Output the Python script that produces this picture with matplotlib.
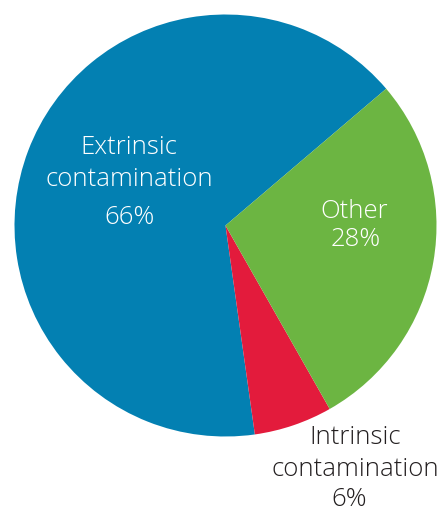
import matplotlib
matplotlib.use('Agg')
from matplotlib import pyplot as plt

# share of cases by source
labels = ['Extrinsic\ncontamination', 'Intrinsic\ncontamination', 'Other']
shares = [66, 6, 28]
colors = ['#0380b2', '#e31b3c', '#6cb542']
text_colors = ['white', '#231f20', 'white']

W, H = 441, 514
fig = plt.figure(figsize=(W / 100, H / 100), dpi=100)
ax = fig.add_axes([0, 0, 1, 1])

cx, cy, r = 225.5, H - 225.5, 211
ax.pie(shares, colors=colors, startangle=40.4, counterclock=True,
       center=(cx, cy), radius=r, frame=True,
       wedgeprops=dict(linewidth=0, antialiased=True))
ax.set_xlim(0, W)
ax.set_ylim(0, H)
ax.set_aspect('equal')
ax.axis('off')

font = dict(family=['Open Sans', 'DejaVu Sans'], fontsize=18.5, fontweight='light',
            ha='center', va='center')

# first-line position, line step and percentage position for each slice (pixels from top)
name_pos = [(129, 148, 31), (355, 438, 31), (354, 211, 0)]
pct_pos = [(130, 217), (349, 500), (356, 240)]
for lab, val, tc, (nx, ny, step), (px, py) in zip(labels, shares, text_colors, name_pos, pct_pos):
    for i, line in enumerate(lab.split('\n')):
        ax.text(nx, H - (ny + i * step), line, color=tc, **font)
    ax.text(px, H - py, f'{val}%', color=tc, **font)

fig.savefig('out.png', dpi=100)
